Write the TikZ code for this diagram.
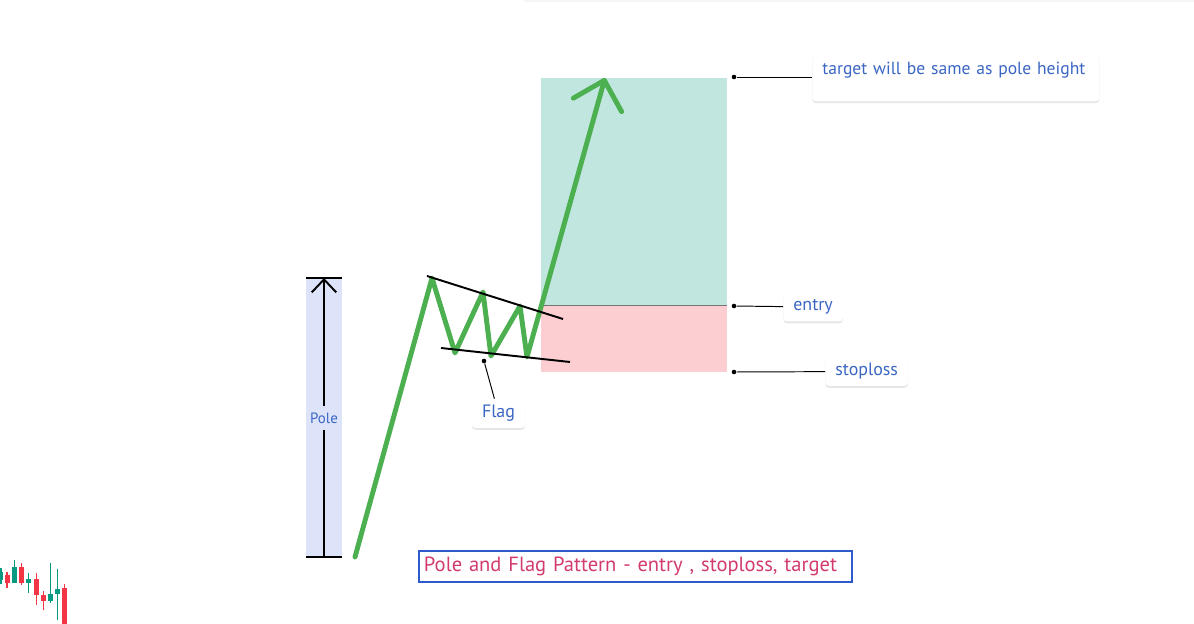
\documentclass[tikz,border=0pt]{standalone}
\usepackage{fontspec}
\setmainfont{PT Sans}
\usetikzlibrary{arrows.meta,positioning,shadows}
\definecolor{polefill}{HTML}{DDE4FA}
\definecolor{profit}{HTML}{C1E6E0}
\definecolor{loss}{HTML}{FCCDD1}
\definecolor{trend}{HTML}{4CAF50}
\definecolor{tagtext}{HTML}{3B66C4}
\definecolor{titletext}{HTML}{D13B6D}
\definecolor{titleframe}{HTML}{2E5BCC}
\definecolor{bull}{HTML}{089981}
\definecolor{bear}{HTML}{F23645}

\begin{document}
\begin{tikzpicture}[x=0.02cm, y=-0.02cm,
  tag/.style={fill=white, rounded corners=2pt, text=tagtext, inner xsep=0.2cm, inner ysep=0pt,
    minimum height=0.58cm, font=\fontsize{10.2}{12}\selectfont,
    drop shadow={shadow xshift=0pt, shadow yshift=-1pt, opacity=0.2}},
  pin/.style={circle, fill=black, inner sep=0pt, minimum size=2.6pt},
  callout/.style={black, line width=0.55pt}]
\useasboundingbox (0,0) rectangle (1194,624);
\fill[black!4] (524,0) rectangle (1194,2);

% candles in the corner: x / body top / body bottom / high / low / colour
\foreach \x/\ya/\yb/\yh/\yl/\col in {1/572/580/568/584/bull, 7/575/583/572/588/bear,
    14.5/567/583/560/583/bull, 21.5/567/583/563/585/bear, 28.5/579/583/573/593/bull,
    36.5/579/595/573/605/bear, 43.5/595/601/591/610/bear, 50.5/594/601/563/603/bull,
    57.5/589/594/569/620/bull, 64.5/588/624/584/624/bear}{
  \draw[\col, line width=0.6pt] (\x,\yh) -- (\x,\yl);
  \fill[\col] (\x-2.5,\ya) rectangle (\x+2.5,\yb);
}

% pole height marker
\fill[polefill] (306,278) rectangle (342,557);
\coordinate (pole head) at (324,278);
\coordinate (pole base) at (324,557);
\draw[line width=1.1pt] (306,278) -- (342,278);
\draw[line width=1.1pt] (306,557) -- (342,557);
\node[text=tagtext, font=\fontsize{8.5}{10}\selectfont, inner ysep=0.12cm, inner xsep=0pt] (pole) at (324,418) {Pole};
\draw[line width=1.1pt] (pole base) -- (pole.south);
\draw[line width=1.1pt, -{Straight Barb[length=7.4pt, width=14pt]}] (pole.north) -- (pole head);

% target and stop zones
\fill[profit] (541,78) rectangle (727,305);
\fill[loss] (541,305) rectangle (727,372);
\draw[black!55, line width=0.4pt] (541,305) -- (727,305);

% price move: pole, flag, breakout
\draw[trend, line width=2.8pt, line join=round, line cap=round,
  -{Straight Barb[length=14.5pt, width=28.5pt, round]}]
  (355,557) -- (432,278) -- (455,353) -- (483,292) -- (491,356)
  -- (520,306) -- (527,357) -- (605,78);

% flag channel
\draw[line width=1.1pt] (427,276) -- (563,319);
\draw[line width=1.1pt] (441,348) -- (570,362);

% callouts
\node[pin] (target pin) at (734,77) {};
\node[tag, anchor=west, font=\fontsize{10}{12}\selectfont, text width=5.34cm, align=left,
  text height=0.44cm, text depth=0.54cm] (target) at (812,77) {target will be same as pole height};
\draw[callout] (target pin) -- (target);

\node[pin] (entry pin) at (734,306) {};
\node[tag, anchor=west] (entry) at (783,307) {entry};
\draw[callout] (entry pin) -- (entry);

\node[pin] (stop pin) at (734,372) {};
\node[tag, anchor=west] (stop) at (825,371.5) {stoploss};
\draw[callout] (stop pin) -- (stop);

\node[pin] (flag pin) at (484,361) {};
\node[tag] (flag) at (498.5,413.5) {Flag};
\draw[callout] (flag pin) -- (flag);

% caption
\node[draw=titleframe, line width=1.1pt, text=titletext, font=\fontsize{11.7}{13}\selectfont,
  text width=8.46cm, align=left, inner xsep=0.1cm, minimum height=0.58cm, anchor=west] (title) at (418,566.5)
  {Pole and Flag Pattern - entry , stoploss, target};
\end{tikzpicture}
\end{document}
